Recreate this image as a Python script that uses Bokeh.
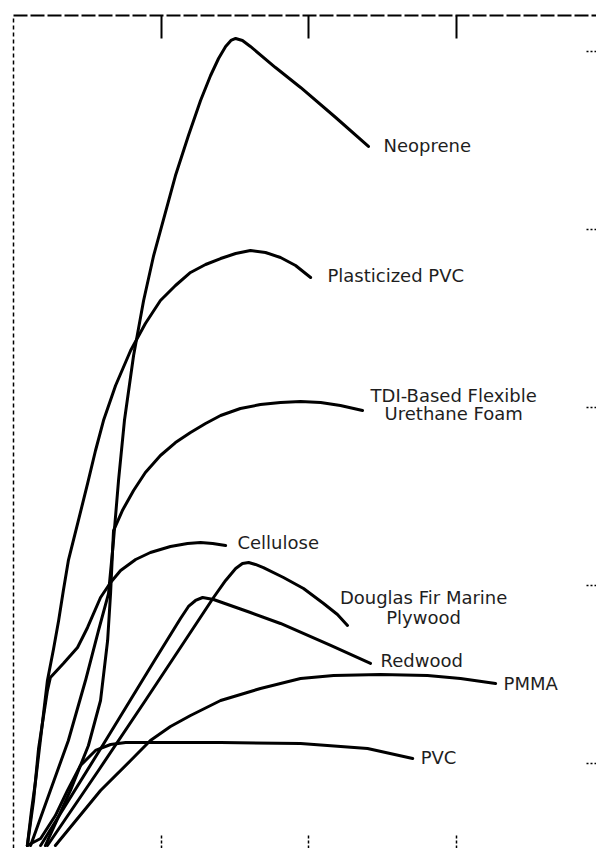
from bokeh.plotting import figure
from bokeh.models import Range1d, LinearAxis, FixedTicker
from bokeh.embed import file_html
from bokeh.resources import INLINE
from bokeh.core.properties import value

# ---- data (time, response) ----
neoprene_t = [0.58, 1.25, 1.86, 2.44, 2.88, 3.22, 3.39, 3.56, 3.76, 4.07, 4.41, 4.75, 5.15, 5.49, 5.93, 6.34,
              6.68, 6.95, 7.19, 7.37, 7.53, 7.76, 8.03, 8.88, 9.73, 10.92, 12.03]
neoprene_v = [0.0, 6.63, 12.65, 19.88, 25.90, 30.36, 36.75, 43.98, 51.20, 59.04, 65.66, 71.08, 76.27, 80.72, 85.54, 89.76,
              92.77, 94.82, 96.27, 96.99, 97.23, 96.99, 96.27, 93.73, 91.33, 87.71, 84.22]

ppvc_t = [0.47, 0.61, 0.75, 0.95, 1.15, 1.36, 1.53, 1.69, 1.86, 2.20, 2.51, 2.78, 3.05, 3.46, 3.97, 4.47, 4.98,
          5.49, 6.00, 6.51, 7.02, 7.53, 8.03, 8.54, 9.05, 9.56, 10.07]
ppvc_v = [0.0, 4.22, 7.83, 13.86, 19.88, 23.73, 27.11, 30.72, 34.34, 39.16, 43.61, 47.59, 51.20, 55.42, 59.64, 62.89, 65.66,
          67.47, 69.04, 70.0, 70.72, 71.33, 71.69, 71.45, 70.84, 69.88, 68.43]

tdi_t = [1.08, 1.93, 2.54, 2.95, 3.19, 3.29, 3.39, 3.69, 4.07, 4.47, 4.98, 5.49, 6.00, 6.51, 7.02, 7.69, 8.37,
         9.05, 9.73, 10.41, 11.08, 11.83]
tdi_v = [0.0, 6.63, 12.05, 17.47, 24.70, 30.36, 37.95, 40.36, 42.77, 44.94, 46.99, 48.55, 49.76, 50.84, 51.81, 52.65, 53.13,
         53.37, 53.49, 53.37, 53.01, 52.41]

cell_t = [0.47, 0.68, 0.85, 1.15, 1.25, 1.69, 2.17, 2.51, 2.95, 3.29, 3.63, 4.14, 4.64, 5.32, 5.90, 6.34, 6.75, 7.19]
cell_v = [0.0, 5.42, 11.69, 18.67, 20.24, 21.93, 23.86, 26.27, 29.88, 31.69, 33.13, 34.46, 35.30, 36.02, 36.39, 36.51, 36.39, 36.14]

fir_t = [1.15, 2.88, 4.47, 5.66, 6.78, 7.19, 7.53, 7.76, 7.97, 8.20, 8.47, 9.15, 9.83, 10.51, 10.98, 11.32]
fir_v = [0.0, 9.04, 17.47, 23.86, 29.88, 31.93, 33.37, 33.98, 34.10, 33.86, 33.49, 32.29, 30.96, 29.16, 27.83, 26.51]

red_t = [0.92, 3.02, 4.78, 5.66, 5.93, 6.17, 6.41, 6.78, 8.03, 9.05, 10.75, 12.10]
red_v = [0.0, 12.05, 22.29, 27.35, 28.80, 29.52, 29.88, 29.64, 28.07, 26.75, 24.10, 21.93]

pmma_t = [1.42, 2.95, 3.97, 4.64, 5.32, 6.00, 7.02, 8.37, 9.73, 10.85, 12.44, 14.03, 15.15, 16.34]
pmma_v = [0.0, 6.63, 10.24, 12.65, 14.34, 15.66, 17.47, 18.92, 20.12, 20.48, 20.60, 20.48, 20.12, 19.52]

pvc_t = [0.47, 0.92, 1.42, 1.83, 2.27, 2.78, 3.29, 3.80, 4.98, 7.02, 9.73, 12.00, 13.53]
pvc_v = [0.0, 0.84, 3.61, 6.63, 9.64, 11.45, 12.17, 12.41, 12.41, 12.41, 12.29, 11.69, 10.48]

# labels
left_labels = ["Neoprene", "Plasticized PVC", "Cellulose", "Redwood", "PMMA", "PVC"]
left_x = [12.54, 10.64, 7.59, 12.44, 16.61, 13.80]
left_y = [84.34, 68.67, 36.51, 22.29, 19.52, 10.60]

center_labels = ["TDI-Based Flexible", "Urethane Foam", "Douglas Fir Marine", "Plywood"]
center_x = [14.92, 14.92, 13.90, 13.90]
center_y = [54.22, 52.05, 29.88, 27.47]

top_ticks = [5, 10, 15]
right_ticks = [9.88, 31.33, 52.77, 74.22, 95.66]

p = figure(width=596, height=848, output_backend="svg", toolbar_location=None,
           x_range=Range1d(0, 19.76), y_range=Range1d(-0.36, 100),
           x_axis_location="above",
           min_border_left=13, min_border_top=15, min_border_right=0, min_border_bottom=0)
p.grid.visible = False
p.outline_line_color = None
p.background_fill_color = "white"


def hide_labels(axis):
    axis.major_label_text_font_size = "1px"
    axis.major_label_text_color = None
    axis.major_label_standoff = 0
    axis.minor_tick_line_color = None
    axis.major_tick_out = 0


# top axis
ax = p.xaxis[0]
ax.ticker = FixedTicker(ticks=top_ticks)
hide_labels(ax)
ax.major_tick_in = 23
ax.axis_line_width = 2
ax.axis_line_dash = "14 3"
ax.major_tick_line_width = 2

# left axis
ay = p.yaxis[0]
ay.ticker = FixedTicker(ticks=[])
hide_labels(ay)
ay.axis_line_width = 1.5
ay.axis_line_dash = "4 3"

# bottom ticks
bx = LinearAxis(ticker=FixedTicker(ticks=top_ticks), axis_line_color=None,
                major_tick_in=14, major_tick_line_width=1.5, major_tick_line_dash="3 2")
hide_labels(bx)
p.add_layout(bx, "below")

# right ticks
ry = LinearAxis(ticker=FixedTicker(ticks=right_ticks), axis_line_color=None,
                major_tick_in=10, major_tick_line_width=1.5, major_tick_line_dash="2 2")
hide_labels(ry)
p.add_layout(ry, "right")

curves = [(neoprene_t, neoprene_v), (ppvc_t, ppvc_v), (tdi_t, tdi_v), (cell_t, cell_v),
          (fir_t, fir_v), (red_t, red_v), (pmma_t, pmma_v), (pvc_t, pvc_v)]
for t, v in curves:
    p.line(t, v, line_color="black", line_width=3, line_join="round", line_cap="round")

font = value("DejaVu Sans")
p.text(left_x, left_y, text=left_labels, text_font=font, text_font_size="18px",
       text_align="left", text_baseline="middle", text_color="#1e1e1e")
p.text(center_x, center_y, text=center_labels, text_font=font, text_font_size="18px",
       text_align="center", text_baseline="middle", text_color="#1e1e1e")

open("out.html", "w").write(file_html(p, INLINE))
